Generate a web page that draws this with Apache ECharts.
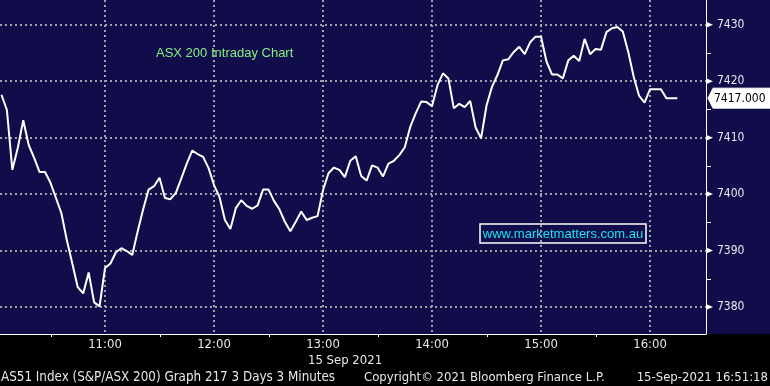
<!DOCTYPE html>
<html>
<head>
<meta charset="utf-8">
<script src="https://cdn.jsdelivr.net/npm/echarts@6/dist/echarts.min.js"></script>
<style>
  html, body { margin: 0; padding: 0; background: #000; }
  #chart { width: 770px; height: 386px;
    background: linear-gradient(to bottom, #110d4a 0px, #110d4a 334px, #000000 334px, #000000 386px); }
</style>
</head>
<body>
<div id="chart"></div>
<script>
// ---- data (3-minute bars, 15 Sep 2021) ----
const times = [
  "10:03","10:06","10:09","10:12","10:15","10:18","10:21","10:24","10:27","10:30",
  "10:33","10:36","10:39","10:42","10:45","10:48","10:51","10:54","10:57","11:00",
  "11:03","11:06","11:09","11:12","11:15","11:18","11:21","11:24","11:27","11:30",
  "11:33","11:36","11:39","11:42","11:45","11:48","11:51","11:54","11:57","12:00",
  "12:03","12:06","12:09","12:12","12:15","12:18","12:21","12:24","12:27","12:30",
  "12:33","12:36","12:39","12:42","12:45","12:48","12:51","12:54","12:57","13:00",
  "13:03","13:06","13:09","13:12","13:15","13:18","13:21","13:24","13:27","13:30",
  "13:33","13:36","13:39","13:42","13:45","13:48","13:51","13:54","13:57","14:00",
  "14:03","14:06","14:09","14:12","14:15","14:18","14:21","14:24","14:27","14:30",
  "14:33","14:36","14:39","14:42","14:45","14:48","14:51","14:54","14:57","15:00",
  "15:03","15:06","15:09","15:12","15:15","15:18","15:21","15:24","15:27","15:30",
  "15:33","15:36","15:39","15:42","15:45","15:48","15:51","15:54","15:57","16:00",
  "16:03","16:06","16:09","16:12","16:15"
];
const prices = [
  7417.6,7414.9,7404.3,7408.2,7413.1,7408.7,7406.4,7403.9,7403.9,7402.0,
  7399.3,7396.6,7391.8,7387.7,7383.5,7382.4,7386.1,7380.8,7380.1,7386.9,
  7387.7,7389.7,7390.4,7389.9,7389.2,7393.4,7397.3,7400.8,7401.4,7402.9,
  7399.3,7399.1,7400.2,7402.8,7405.4,7407.7,7407.1,7406.6,7404.6,7401.6,
  7399.5,7395.4,7393.8,7397.5,7398.9,7397.9,7397.4,7398.0,7400.8,7400.8,
  7398.8,7397.3,7395.1,7393.4,7395.1,7396.9,7395.4,7395.8,7396.1,7400.7,
  7403.7,7404.7,7404.3,7403.0,7405.9,7406.7,7403.2,7402.4,7405.1,7404.7,
  7403.1,7405.4,7405.9,7406.9,7408.3,7411.9,7414.3,7416.4,7416.3,7415.6,
  7419.3,7421.4,7420.5,7415.2,7416.0,7415.4,7416.5,7411.8,7409.9,7415.7,
  7419.0,7421.1,7423.7,7423.9,7425.2,7426.1,7424.8,7426.9,7427.9,7427.9,
  7423.5,7421.2,7421.2,7420.5,7423.7,7424.5,7423.6,7427.5,7424.8,7425.7,
  7425.6,7428.7,7429.4,7429.6,7428.8,7425.2,7420.8,7417.4,7416.2,7418.6,
  7418.6,7418.6,7417.0,7417.0,7417.0
];
// axis window and tick labels
const xRange = ["10:02", "16:31"];
const yRange = [7375.2, 7434.4];
const yTickLabels = [7380, 7390, 7400, 7410, 7420, 7430];
const yMinorTicks = [7385, 7395, 7405, 7415, 7425];
const xMinorTicks = ["10:30", "11:30", "12:30", "13:30", "14:30", "15:30"];
const titleText = "ASX 200 Intraday Chart";
const watermarkText = "www.marketmatters.com.au";
const dateText = "15 Sep 2021";
const footerLeft = "AS51 Index (S&P/ASX 200) Graph 217 3 Days 3 Minutes";
const footerMid = "Copyright\u00A9 2021 Bloomberg Finance L.P.";
const footerRight = "15-Sep-2021 16:51:18";

function toMin(s) { const p = s.split(":"); return (+p[0]) * 60 + (+p[1]); }
function fmtTime(m) {
  const h = Math.floor(m / 60), mm = Math.round(m - h * 60);
  return (h < 10 ? "0" : "") + h + ":" + (mm < 10 ? "0" : "") + mm;
}
const seriesData = times.map((t, i) => [toMin(t), prices[i]]);

const COND = "'DejaVu Sans Condensed', 'Liberation Sans Narrow', sans-serif";
const chart = echarts.init(document.getElementById("chart"), null, { renderer: "canvas" });

const xMin = toMin(xRange[0]) + 0.2, xMax = toMin(xRange[1]) - 0.2;
const dotted = { color: "#a2a2aa", width: 2, type: [2, 3] };

const baseGraphic = [
  { type: "group", id: "wm", children: [
    { type: "rect", shape: { x: 480, y: 224, width: 166, height: 19 },
      style: { fill: "transparent", stroke: "#ffffff", lineWidth: 1.5 } },
    { type: "text", x: 563, y: 234,
      style: { text: watermarkText, fill: "#19e4f0", font: "13px 'Liberation Sans', Arial, sans-serif",
               textAlign: "center", textVerticalAlign: "middle" } }
  ]},
  { type: "text", id: "date", x: 308, y: 361,
    style: { text: dateText, fill: "#e6e6ee", font: "13px " + COND, textVerticalAlign: "middle" } },
  { type: "text", id: "f1", x: 1, y: 378,
    style: { text: footerLeft, fill: "#e6e6ee", font: "13.3px " + COND, textVerticalAlign: "middle" } },
  { type: "text", id: "f2", x: 364, y: 378,
    style: { text: footerMid, fill: "#e6e6ee", font: "13px " + COND, textVerticalAlign: "middle" } },
  { type: "text", id: "f3", x: 768, y: 378,
    style: { text: footerRight, fill: "#e6e6ee", font: "13px " + COND, textAlign: "right", textVerticalAlign: "middle" } }
];

chart.setOption({
  animation: false,
  backgroundColor: "transparent",
  title: {
    text: titleText, left: 156, top: 47, padding: 0,
    textStyle: { color: "#84f084", fontSize: 13, fontWeight: "normal",
                 fontFamily: "'Liberation Sans', Arial, sans-serif" }
  },
  grid: { left: 0, right: 64, top: 0, bottom: 52, containLabel: false, outerBoundsMode: "none" },
  xAxis: {
    type: "value", position: "bottom", min: xMin, max: xMax,
    minInterval: 60, maxInterval: 60,
    axisLine: { show: true, lineStyle: { color: "#ffffff", width: 1 } },
    axisTick: { show: false },
    axisLabel: { show: true, margin: 4, color: "#e6e6ee", fontSize: 13, fontFamily: COND,
                 showMinLabel: false, showMaxLabel: false, formatter: v => fmtTime(v) },
    splitLine: { show: true, showMinLine: false, showMaxLine: false, lineStyle: dotted }
  },
  yAxis: {
    type: "value", position: "right", min: yRange[0], max: yRange[1],
    minInterval: 10, maxInterval: 10,
    axisLine: { show: true, lineStyle: { color: "#ffffff", width: 1 } },
    axisTick: { show: false },
    axisLabel: { show: true, margin: 11, showMinLabel: false, showMaxLabel: false,
                 color: "#e8e8f0", fontSize: 12, fontFamily: COND, formatter: v => String(v) },
    splitLine: { show: true, showMinLine: false, showMaxLine: false, lineStyle: dotted }
  },
  series: [{
    type: "line", data: seriesData,
    showSymbol: false, symbol: "none", clip: true,
    lineStyle: { color: "#ffffff", width: 2 }, z: 5
  }],
  graphic: baseGraphic
});

// axis markers and the last-price tag, placed through the chart's scales
const extra = [];
yTickLabels.forEach((v, i) => {
  const py = chart.convertToPixel({ yAxisIndex: 0 }, v);
  extra.push({ type: "polygon", id: "arr" + i,
    shape: { points: [[706, py - 3], [713, py], [706, py + 3]] },
    style: { fill: "#ffffff" }, z: 20 });
});
yMinorTicks.forEach((v, i) => {
  const py = Math.round(chart.convertToPixel({ yAxisIndex: 0 }, v)) + 0.5;
  extra.push({ type: "line", id: "ymt" + i,
    shape: { x1: 706, y1: py, x2: 711, y2: py },
    style: { stroke: "#ffffff", lineWidth: 1 }, z: 20 });
});
xMinorTicks.forEach((t, i) => {
  const px = Math.round(chart.convertToPixel({ xAxisIndex: 0 }, toMin(t))) + 0.5;
  extra.push({ type: "line", id: "xmt" + i,
    shape: { x1: px, y1: 334, x2: px, y2: 337 },
    style: { stroke: "#ffffff", lineWidth: 1 }, z: 20 });
});
const last = prices[prices.length - 1];
const yc = chart.convertToPixel({ yAxisIndex: 0 }, last);
extra.push(
  { type: "polygon", id: "tagbox",
    shape: { points: [[708, yc], [713, yc - 10], [770, yc - 10], [770, yc + 10], [713, yc + 10]] },
    style: { fill: "#ffffff", stroke: "#ffffff" }, z: 20 },
  { type: "text", id: "tagtxt", x: 714, y: yc + 0.5, z: 21,
    style: { text: last.toFixed(3), fill: "#000000", font: "12px " + COND, textVerticalAlign: "middle" } }
);
chart.setOption({ graphic: baseGraphic.concat(extra) });
</script>
</body>
</html>
